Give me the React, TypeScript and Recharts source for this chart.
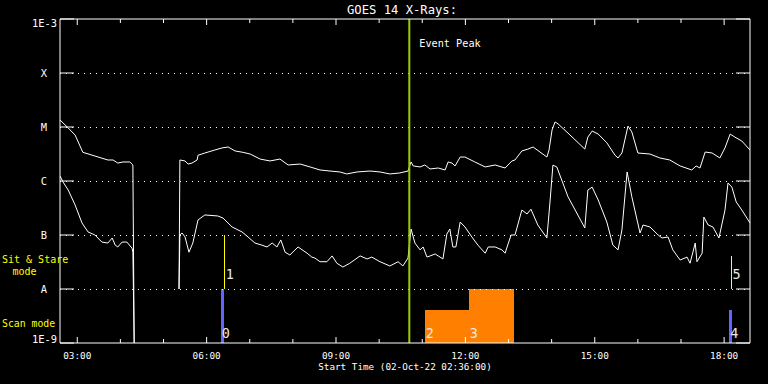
import React from "react"
import { LineChart, Line, XAxis, YAxis, ReferenceLine, ReferenceArea } from "recharts"

// hours since 00:00 UT on 02-Oct-22
const longTimes = [
    2.6, 2.79, 2.95, 3.13, 3.41, 3.71, 3.83, 3.94, 4.06, 4.22, 4.29, 4.32,
    4.8,
    5.36, 5.38, 5.5, 5.57, 5.66, 5.78, 5.8, 5.96, 6.19, 6.36, 6.5, 6.66, 6.84, 7.01, 7.24, 7.47,
    7.7, 7.89, 8.17, 8.4, 8.63, 8.86, 9.09, 9.25, 9.49, 9.79, 10.02, 10.25, 10.48, 10.67,
    10.74, 10.79, 10.95, 11.06, 11.18, 11.37, 11.53, 11.6, 11.69, 11.76, 11.88, 11.99, 12.22, 12.46,
    12.69, 12.92, 13.08, 13.15, 13.31, 13.45, 13.57, 13.73, 13.89, 13.94, 14.01, 14.08, 14.15, 14.38,
    14.77, 14.84, 14.94, 15.08, 15.28, 15.47, 15.54, 15.63, 15.77, 15.86, 16.0, 16.28, 16.51, 16.74,
    16.98, 17.25, 17.35, 17.44, 17.56, 17.72, 17.9, 18.02, 18.14, 18.25, 18.41, 18.6,
]
const longFlux = [
    1.35e-5, 9.6e-6, 7.1e-6, 3.4e-6, 2.9e-6, 2.45e-6, 2.45e-6, 2.15e-6, 2.25e-6, 2.25e-6, 1.98e-6, 1e-9,
    null,
    1e-8, 2.45e-6, 2.35e-6, 2.06e-6, 2.15e-6, 2.45e-6, 3.0e-6, 3.3e-6, 3.75e-6, 4.1e-6, 4.26e-6, 3.6e-6, 3.4e-6, 3.16e-6, 2.55e-6, 2.35e-6,
    2.55e-6, 1.98e-6, 2.06e-6, 1.82e-6, 1.6e-6, 1.53e-6, 1.47e-6, 1.35e-6, 1.47e-6, 1.53e-6, 1.47e-6, 1.35e-6, 1.41e-6, 1.53e-6,
    2.25e-6, 1.9e-6, 1.82e-6, 1.98e-6, 1.67e-6, 1.74e-6, 1.6e-6, 2.25e-6, 2.15e-6, 1.9e-6, 2.78e-6, 2.78e-6, 2.25e-6, 1.82e-6,
    1.98e-6, 1.74e-6, 2.35e-6, 2.45e-6, 3.6e-6, 3.9e-6, 4.26e-6, 3.44e-6, 2.78e-6, 3.75e-6, 8.8e-6, 1.24e-5, 1.14e-5, 7.7e-6,
    3.9e-6, 6.5e-6, 8.4e-6, 7.4e-6, 5.1e-6, 3.0e-6, 2.67e-6, 3.3e-6, 1.04e-5, 8.1e-6, 3.3e-6, 3.16e-6, 2.67e-6, 2.45e-6,
    1.9e-6, 1.6e-6, 1.9e-6, 1.74e-6, 3.44e-6, 3.3e-6, 2.67e-6, 4.1e-6, 7.4e-6, 6.5e-6, 5.5e-6, 3.75e-6,
]

const shortTimes = [
    2.6, 2.67, 2.79, 2.95, 3.11, 3.25, 3.41, 3.57, 3.71, 3.81, 3.88, 3.94, 4.04, 4.15, 4.27, 4.29, 4.32,
    4.8,
    5.36, 5.38, 5.43, 5.5, 5.59, 5.68, 5.8, 5.96, 6.26, 6.38, 6.59, 6.82, 6.96, 7.12, 7.28, 7.4,
    7.52, 7.63, 7.72, 7.82, 7.93, 8.12, 8.33, 8.44, 8.51, 8.63, 8.79, 8.91, 9.02, 9.16, 9.32, 9.56,
    9.72, 9.83, 10.02, 10.25, 10.44, 10.55, 10.67, 10.74, 10.83, 10.95, 11.02, 11.11, 11.3, 11.48, 11.57, 11.64,
    11.71, 11.78, 11.88, 11.99, 12.15, 12.29, 12.46, 12.53, 12.69, 12.85, 12.92, 13.06, 13.15, 13.31, 13.43, 13.52,
    13.68, 13.89, 13.96, 14.03, 14.12, 14.38, 14.77, 14.84, 14.94, 15.08, 15.28, 15.42, 15.54, 15.63, 15.75, 15.86,
    16.05, 16.12, 16.28, 16.47, 16.56, 16.7, 16.81, 16.98, 17.14, 17.21, 17.33, 17.37, 17.49, 17.53, 17.63, 17.74,
    17.88, 18.02, 18.09, 18.18, 18.28, 18.41, 18.6,
]
const shortFlux = [
    1.24e-6, 9.6e-7, 6.8e-7, 3.6e-7, 1.67e-7, 1.14e-7, 1.0e-7, 7.4e-8, 7.1e-8, 8.8e-8, 6.5e-8, 6.0e-8, 7.4e-8, 7.4e-8, 5.7e-8, 4.8e-8, 1e-9,
    null,
    1e-8, 1.0e-7, 1.09e-7, 9.2e-8, 4.8e-8, 7.1e-8, 1.9e-7, 2.35e-7, 2.25e-7, 2.06e-7, 1.41e-7, 1.14e-7, 9.2e-8, 7.1e-8, 6.5e-8, 6.0e-8,
    7.1e-8, 6.0e-8, 8.1e-8, 4.8e-8, 4.26e-8, 6.0e-8, 4.6e-8, 3.9e-8, 3.75e-8, 3.2e-8, 3.2e-8, 4.1e-8, 3.0e-8, 2.55e-8, 3.0e-8, 4.1e-8,
    3.6e-8, 3.9e-8, 3.2e-8, 2.67e-8, 3.2e-8, 2.67e-8, 3.75e-8, 1.29e-7, 7.1e-8, 5.3e-8, 6.0e-8, 3.9e-8, 4.45e-8, 3.6e-8, 1.04e-7, 1.29e-7,
    6.0e-8, 6.0e-8, 1.74e-7, 1.41e-7, 9.2e-8, 6.5e-8, 4.6e-8, 6.0e-8, 6.0e-8, 5.3e-8, 4.6e-8, 1.0e-7, 1.0e-7, 2.9e-7, 2.45e-7, 3.0e-7,
    1.53e-7, 8.8e-8, 3.9e-7, 1.97e-6, 1.82e-6, 5.1e-7, 1.35e-7, 6.8e-7, 7.7e-7, 4.45e-7, 1.74e-7, 6.5e-8, 5.3e-8, 1.24e-7, 1.47e-6, 5.1e-7,
    1.09e-7, 1.53e-7, 1.41e-7, 1.0e-7, 8.8e-8, 9.2e-8, 5.3e-8, 3.44e-8, 3.9e-8, 3.0e-8, 7.1e-8, 3.2e-8, 4.6e-8, 2.15e-7, 1.53e-7, 1.41e-7,
    8.8e-8, 2.9e-7, 9.2e-7, 7.7e-7, 4.1e-7, 2.9e-7, 1.67e-7,
]

const hourTicks = [3, 4, 5, 6, 7, 8, 9, 10, 11, 12, 13, 14, 15, 16, 17, 18]
const labeledHours = [3, 6, 9, 12, 15, 18]
const levelTicks = [1e-9, 1e-8, 1e-7, 1e-6, 1e-5, 1e-4, 1e-3]
const levelLabels = ["1E-9", "A", "B", "C", "M", "X", "1E-3"]
const gridLevels = [1e-8, 1e-7, 1e-6, 1e-5, 1e-4]

const eventPeak = 10.7

// scan mode blocks (bottom band) and sit & stare marks (A-B band)
const scanIds = [0, 2, 3, 4]
const scanStart = [6.33, 11.06, 12.08, 18.12]
const scanEnd = [6.4, 12.08, 13.13, 18.19]
const scanTop = [1e-8, 4.1e-9, 1e-8, 4.1e-9]
const sitIds = [1, 5]
const sitTimes = [6.42, 18.17]
const sitTop = [1e-7, 4.1e-8]

const FONT = "DejaVu Sans Mono"
const BLUE = "#6464ff"
const ORANGE = "#ff8000"
const YELLOW = "#ffff00"

const longData = longTimes.map((t, i) => ({ t, v: longFlux[i] }))
const shortData = shortTimes.map((t, i) => ({ t, v: shortFlux[i] }))

const scanColor = (id: number) => (id === 2 || id === 3 ? ORANGE : BLUE)
const fmtHour = (h: number) => `${String(h).padStart(2, "0")}:00`

const BottomTick = (props: any) => {
    const { x, y, payload } = props
    const major = labeledHours.includes(payload.value)
    return (
        <g>
            <line x1={x} x2={x} y1={y} y2={y - (major ? 6 : 4)} stroke="#fff" />
            {major && (
                <text x={x} y={y + 15.5} textAnchor="middle" fill="#fff" fontSize={9.4} fontFamily={FONT}>
                    {fmtHour(payload.value)}
                </text>
            )}
        </g>
    )
}

const TopTick = (props: any) => {
    const { x, y, payload } = props
    const major = labeledHours.includes(payload.value)
    return <line x1={x} x2={x} y1={y} y2={y + (major ? 6 : 4)} stroke="#fff" />
}

const LeftTick = (props: any) => {
    const { x, y, payload } = props
    const idx = levelTicks.indexOf(payload.value)
    const label = levelLabels[idx]
    const isExp = label.startsWith("1E")
    const ty = idx === 0 ? y : idx === levelTicks.length - 1 ? y + 8 : y + 4
    return (
        <g>
            <line x1={x} x2={x + 14} y1={y} y2={y} stroke="#fff" />
            <text
                x={isExp ? x - 3 : x - 16}
                y={ty}
                textAnchor={isExp ? "end" : "middle"}
                fill="#fff"
                fontSize={10.4}
                fontFamily={FONT}
            >
                {label}
            </text>
        </g>
    )
}

const RightTick = (props: any) => {
    const { x, y } = props
    return <line x1={x} x2={x - 14} y1={y} y2={y} stroke="#fff" />
}

const modeLabel = (text: string, bottomOffset: number) => (p: any) => {
    const vb = p.viewBox || {}
    const x = vb.x ?? vb.x1 ?? 0
    const y = vb.y ?? Math.min(vb.y1 ?? 0, vb.y2 ?? 0)
    const h = vb.height ?? Math.abs((vb.y2 ?? 0) - (vb.y1 ?? 0))
    return (
        <text x={x + 1} y={y + h - bottomOffset} fill="#e8e8e8" fontSize={13.5} fontFamily={FONT}>
            {text}
        </text>
    )
}

export default function App() {
    return (
        <div style={{ position: "absolute", left: 0, top: 0, width: 768, height: 384, background: "#000" }}>
            <LineChart width={768} height={384} margin={{ top: 0, right: 0, bottom: 0, left: 0 }}>
                <XAxis
                    dataKey="t"
                    type="number"
                    domain={[2.6, 18.6]}
                    ticks={hourTicks}
                    interval={0}
                    allowDataOverflow
                    height={41}
                    axisLine={{ stroke: "#fff" }}
                    tickLine={false}
                    tickSize={0}
                    tickMargin={0}
                    tick={<BottomTick />}
                />
                <XAxis
                    xAxisId="top"
                    orientation="top"
                    dataKey="t"
                    type="number"
                    domain={[2.6, 18.6]}
                    ticks={hourTicks}
                    interval={0}
                    allowDataOverflow
                    height={19}
                    axisLine={{ stroke: "#fff" }}
                    tickLine={false}
                    tickSize={0}
                    tickMargin={0}
                    tick={<TopTick />}
                />
                <YAxis
                    type="number"
                    scale="log"
                    domain={[1e-9, 1e-3]}
                    ticks={levelTicks}
                    interval={0}
                    allowDataOverflow
                    width={60}
                    axisLine={{ stroke: "#fff" }}
                    tickLine={false}
                    tickSize={0}
                    tickMargin={0}
                    tick={<LeftTick />}
                />
                <YAxis
                    yAxisId="right"
                    orientation="right"
                    type="number"
                    scale="log"
                    domain={[1e-9, 1e-3]}
                    ticks={levelTicks}
                    interval={0}
                    allowDataOverflow
                    width={18}
                    axisLine={{ stroke: "#fff" }}
                    tickLine={false}
                    tickSize={0}
                    tickMargin={0}
                    tick={<RightTick />}
                />

                {gridLevels.map((lv) => (
                    <ReferenceLine key={lv} y={lv} stroke="#fff" strokeDasharray="1 5" shapeRendering="crispEdges" />
                ))}

                {scanIds.map((id, i) => (
                    <ReferenceArea
                        key={"scan" + id}
                        x1={scanStart[i]}
                        x2={scanEnd[i]}
                        y1={1e-9}
                        y2={scanTop[i]}
                        fill={scanColor(id)}
                        fillOpacity={1}
                        stroke="none"
                        shapeRendering="crispEdges"
                        label={modeLabel(String(id), 5)}
                    />
                ))}

                {sitIds.map((id, i) => (
                    <ReferenceLine
                        key={"sit" + id}
                        segment={[
                            { x: sitTimes[i], y: 1e-8 },
                            { x: sitTimes[i], y: sitTop[i] },
                        ]}
                        stroke={YELLOW}
                        strokeWidth={1}
                        shapeRendering="crispEdges"
                        label={modeLabel(String(id), 10)}
                    />
                ))}

                <Line
                    data={longData}
                    dataKey="v"
                    type="linear"
                    stroke="#fff"
                    strokeWidth={1}
                    dot={false}
                    connectNulls={false}
                    isAnimationActive={false}
                />
                <Line
                    data={shortData}
                    dataKey="v"
                    type="linear"
                    stroke="#fff"
                    strokeWidth={1}
                    dot={false}
                    connectNulls={false}
                    isAnimationActive={false}
                />

                <ReferenceLine
                    x={eventPeak}
                    stroke="#9acd00"
                    strokeWidth={2}
                    label={(p: any) => (
                        <text x={(p.viewBox?.x ?? 0) + 10} y={46.5} fill="#fff" fontSize={10.2} fontFamily={FONT}>
                            Event Peak
                        </text>
                    )}
                />
            </LineChart>

            <svg
                width={768}
                height={384}
                style={{ position: "absolute", left: 0, top: 0, pointerEvents: "none" }}
                fontFamily={FONT}
            >
                <text x={402} y={14} textAnchor="middle" fill="#fff" fontSize={12.2}>
                    GOES 14 X-Rays:
                </text>
                <text x={405} y={370} textAnchor="middle" fill="#fff" fontSize={9.3}>
                    Start Time (02-Oct-22 02:36:00)
                </text>
                <text x={2} y={263} fill={YELLOW} fontSize={10}>
                    Sit &amp; Stare
                </text>
                <text x={24.5} y={275} textAnchor="middle" fill={YELLOW} fontSize={10}>
                    mode
                </text>
                <text x={2} y={327} fill={YELLOW} fontSize={9.8}>
                    Scan mode
                </text>
            </svg>
        </div>
    )
}
